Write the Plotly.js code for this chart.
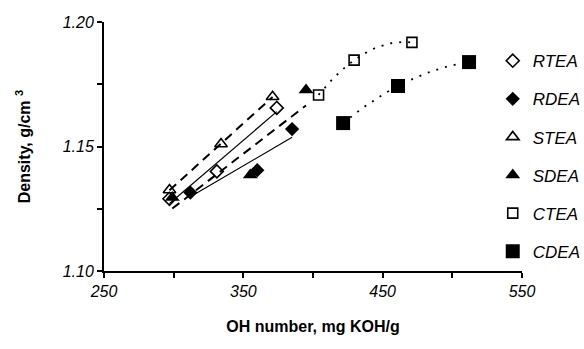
<!DOCTYPE html>
<html>
<head>
<meta charset="utf-8">
<script src="https://cdn.plot.ly/plotly-3.0.1.min.js"></script>
<style>html,body{margin:0;padding:0;background:#fff;}#chart{width:584px;height:349px;}</style>
</head>
<body>
<div id="chart"></div>
<script>
// Data
const seriesNames = ["RTEA", "RDEA", "STEA", "SDEA", "CTEA", "CDEA"];
const RTEA_x = [297, 331, 374];
const RTEA_y = [1.129, 1.140, 1.1655];
const RDEA_x = [312, 360, 385];
const RDEA_y = [1.1315, 1.1405, 1.157];
const STEA_x = [297, 334, 371];
const STEA_y = [1.1325, 1.151, 1.170];
const SDEA_x = [299, 355, 395];
const SDEA_y = [1.1295, 1.1386, 1.1727];
const CTEA_x = [404, 429.5, 471];
const CTEA_y = [1.1707, 1.1847, 1.1918];
const CDEA_x = [421.6, 461, 512];
const CDEA_y = [1.1594, 1.1743, 1.1839];
const xTickVals = [250, 350, 450, 550];
const xTickText = ["250", "350", "450", "550"];
const xMinorVals = [300, 400, 500];
const yTickVals = [1.10, 1.15, 1.20];
const yTickText = ["1.10", "1.15", "1.20"];
const yMinorVals = [1.125, 1.175];

function linFit(xs, ys) {
  const n = xs.length;
  const mx = xs.reduce((a, b) => a + b, 0) / n;
  const my = ys.reduce((a, b) => a + b, 0) / n;
  let sxy = 0, sxx = 0;
  for (let i = 0; i < n; i++) { sxy += (xs[i] - mx) * (ys[i] - my); sxx += (xs[i] - mx) ** 2; }
  const b = sxy / sxx, a = my - b * mx;
  const x0 = Math.min(...xs), x1 = Math.max(...xs);
  return { x: [x0, x1], y: [a + b * x0, a + b * x1] };
}
function quadFit(xs, ys) {
  // exact quadratic through the three points (2nd-order trendline)
  const [x0, x1, x2] = xs, [y0, y1, y2] = ys;
  const f = x => y0 * (x - x1) * (x - x2) / ((x0 - x1) * (x0 - x2)) +
                 y1 * (x - x0) * (x - x2) / ((x1 - x0) * (x1 - x2)) +
                 y2 * (x - x0) * (x - x1) / ((x2 - x0) * (x2 - x1));
  const lo = Math.min(...xs), hi = Math.max(...xs);
  const X = [], Y = [];
  for (let i = 0; i <= 40; i++) { const x = lo + (hi - lo) * i / 40; X.push(x); Y.push(f(x)); }
  return { x: X, y: Y };
}

const black = "#000";
const it = s => "<i>" + s + "</i>";
function trend(fit, dash, width) {
  return { x: fit.x, y: fit.y, mode: "lines", showlegend: false, hoverinfo: "skip",
           line: { color: black, dash: dash, width: width } };
}
function pts(name, xs, ys, symbol, size) {
  const open = symbol.indexOf("open") >= 0;
  return { x: xs, y: ys, name: it(name), mode: "markers", legendgroup: name,
           marker: { symbol: symbol, size: size, color: black,
                     line: { color: black, width: open ? 1.6 : 0 } } };
}

const traces = [
  trend(linFit(RTEA_x, RTEA_y), "solid", 1.2),
  trend(linFit(RDEA_x, RDEA_y), "solid", 1.2),
  trend(linFit(STEA_x, STEA_y), "9px,6px", 2),
  trend(linFit(SDEA_x, SDEA_y), "9px,6px", 2),
  trend(quadFit(CTEA_x, CTEA_y), "2px,7px", 1.8),
  trend(quadFit(CDEA_x, CDEA_y), "2px,7px", 1.8),
  pts(seriesNames[0], RTEA_x, RTEA_y, "diamond-open", 10),
  pts(seriesNames[1], RDEA_x, RDEA_y, "diamond", 11),
  pts(seriesNames[2], STEA_x, STEA_y, "triangle-up-open", 11),
  pts(seriesNames[3], SDEA_x, SDEA_y, "triangle-up", 13),
  pts(seriesNames[4], CTEA_x, CTEA_y, "square-open", 10),
  pts(seriesNames[5], CDEA_x, CDEA_y, "square", 14)
];

const font = "Arial, 'Liberation Sans', sans-serif";
const minorStyle = vals => ({ tickmode: "array", tickvals: vals, ticks: "outside", ticklen: 5, tickwidth: 2, tickcolor: black, showgrid: false });
const layout = {
  width: 584, height: 349,
  margin: { l: 104, r: 62, t: 22, b: 78, autoexpand: false },
  paper_bgcolor: "#fff", plot_bgcolor: "#fff",
  font: { family: font, color: black },
  xaxis: {
    range: [250, 550], tickmode: "array", tickvals: xTickVals, ticktext: xTickText.map(it),
    minor: minorStyle(xMinorVals),
    showgrid: false, zeroline: false, showline: true, linecolor: black, linewidth: 2,
    ticks: "outside", ticklen: 5, tickwidth: 2, tickcolor: black,
    tickfont: { size: 16 },
    title: { text: "OH number, mg KOH/g", font: { size: 16, weight: "bold" }, standoff: 22 }
  },
  yaxis: {
    range: [1.10, 1.20], tickmode: "array", tickvals: yTickVals, ticktext: yTickText.map(it),
    minor: minorStyle(yMinorVals),
    showgrid: false, zeroline: false, showline: true, linecolor: black, linewidth: 2,
    ticks: "outside", ticklen: 5, tickwidth: 2, tickcolor: black,
    tickfont: { size: 16 },
    title: { text: "Density, g/cm <sup>3</sup>", font: { size: 16, weight: "bold" }, standoff: 28 }
  },
  legend: {
    x: 0.93, xanchor: "left", y: 0.915, yanchor: "top",
    bgcolor: "rgba(0,0,0,0)", borderwidth: 0,
    font: { size: 17 },
    traceorder: "grouped", tracegroupgap: 13, itemwidth: 30
  },
  showlegend: true
};

Plotly.newPlot("chart", traces, layout, { staticPlot: true, displayModeBar: false });
</script>
</body>
</html>
